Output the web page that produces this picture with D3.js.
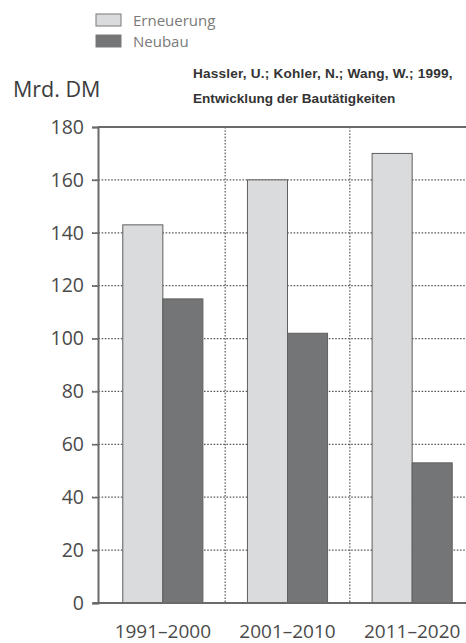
<!DOCTYPE html>
<html>
<head>
<meta charset="utf-8">
<script src="https://cdn.jsdelivr.net/npm/d3@7"></script>
<style>
  html, body { margin: 0; padding: 0; background: #fff; }
  svg { display: block; }
</style>
</head>
<body>
<svg id="chart" width="466" height="643"></svg>
<script>
// Bauvolumen in Mrd. DM je Jahrzehnt
const periods = ["1991–2000", "2001–2010", "2011–2020"];
const seriesNames = ["Erneuerung", "Neubau"];
const erneuerung = [143, 160, 170];
const neubau = [115, 102, 53];
const yTicks = [0, 20, 40, 60, 80, 100, 120, 140, 160, 180];
const unitLabel = "Mrd. DM";
const sourceLines = ["Hassler, U.; Kohler, N.; Wang, W.; 1999,", "Entwicklung der Bautätigkeiten"];

const colors = { "Erneuerung": "#d9dbdd", "Neubau": "#747576" };
const mainFont = "'Open Sans', 'Noto Sans', sans-serif";

const svg = d3.select("#chart");
const axisX = 98, plotTop = 127, plotBottom = 603;

const y = d3.scaleLinear().domain([0, 180]).range([plotBottom, plotTop]);
const x0 = d3.scaleBand().domain(periods).range([100.5, 474.5]).padding(0);
const x1 = d3.scaleBand().domain(seriesNames).range([0, x0.bandwidth()])
  .paddingInner(0).paddingOuter(0.556);

const rows = periods.map((p, i) => ({ period: p, values: [
  { key: "Erneuerung", value: erneuerung[i] },
  { key: "Neubau", value: neubau[i] }
]}));

// dotted grid
const grid = svg.append("g").attr("stroke", "#5a5a5a").attr("stroke-width", 1.2)
  .attr("stroke-dasharray", "1.6,1.6");
grid.selectAll("line.h").data(yTicks.filter(t => t > 0 && t < 180)).join("line")
  .attr("class", "h")
  .attr("x1", 92).attr("x2", 466)
  .attr("y1", d => y(d)).attr("y2", d => y(d));
grid.selectAll("line.v").data(periods.slice(1)).join("line")
  .attr("class", "v")
  .attr("x1", d => x0(d)).attr("x2", d => x0(d))
  .attr("y1", plotTop).attr("y2", plotBottom);

// bars
svg.append("g").selectAll("g").data(rows).join("g")
  .attr("transform", d => `translate(${x0(d.period)},0)`)
  .selectAll("rect").data(d => d.values).join("rect")
  .attr("x", d => x1(d.key))
  .attr("width", x1.bandwidth())
  .attr("y", d => y(d.value))
  .attr("height", d => y(0) - y(d.value))
  .attr("fill", d => colors[d.key])
  .attr("stroke", "#5f5f5f")
  .attr("stroke-width", 1);

// frame lines
svg.append("line").attr("x1", axisX).attr("x2", 466).attr("y1", plotTop).attr("y2", plotTop)
  .attr("stroke", "#6a6a6a").attr("stroke-width", 2);
svg.append("line").attr("x1", 93).attr("x2", 466).attr("y1", plotBottom).attr("y2", plotBottom)
  .attr("stroke", "#6a6a6a").attr("stroke-width", 2);

// y axis
const yAxis = d3.axisLeft(y).tickValues(yTicks).tickSize(6).tickPadding(8);
const gy = svg.append("g").attr("transform", `translate(${axisX},0)`).call(yAxis);
gy.select(".domain").attr("stroke", "#6a6a6a").attr("stroke-width", 2);
gy.selectAll(".tick line").attr("stroke", "#6a6a6a").attr("stroke-width", 1.5);
gy.selectAll(".tick text").attr("fill", "#4a4a4a")
  .style("font-family", mainFont).style("font-size", "19.5px");

// x axis labels
const xAxis = d3.axisBottom(x0).tickSize(0).tickPadding(0);
const gx = svg.append("g").attr("transform", `translate(0,${plotBottom})`).call(xAxis);
gx.select(".domain").remove();
gx.selectAll(".tick text").attr("fill", "#4a4a4a").attr("dy", null).attr("y", 35)
  .style("font-family", mainFont).style("font-size", "19px");

// unit label
svg.append("text").attr("x", 13).attr("y", 97).text(unitLabel)
  .attr("fill", "#3c3c3c").style("font-family", mainFont).style("font-size", "21.5px");

// source
svg.append("g").selectAll("text").data(sourceLines).join("text")
  .attr("x", 193).attr("y", (d, i) => 78 + i * 25)
  .text(d => d)
  .attr("fill", "#333")
  .style("letter-spacing", (d, i) => i === 0 ? "0.2px" : "0px")
  .style("font-family", "'Liberation Sans', Arial, sans-serif")
  .style("font-weight", "bold").style("font-size", "13.6px");

// legend
const legend = svg.append("g").selectAll("g").data(seriesNames).join("g")
  .attr("transform", (d, i) => `translate(96,${14 + i * 21})`);
legend.append("rect").attr("width", 25).attr("height", 12)
  .attr("fill", d => colors[d]).attr("stroke", "#7a7a7a").attr("stroke-width", 1);
legend.append("text").attr("x", 37).attr("y", 11.5).text(d => d)
  .attr("fill", "#7a7a7a").style("font-family", mainFont).style("font-size", "15px");
</script>
</body>
</html>
